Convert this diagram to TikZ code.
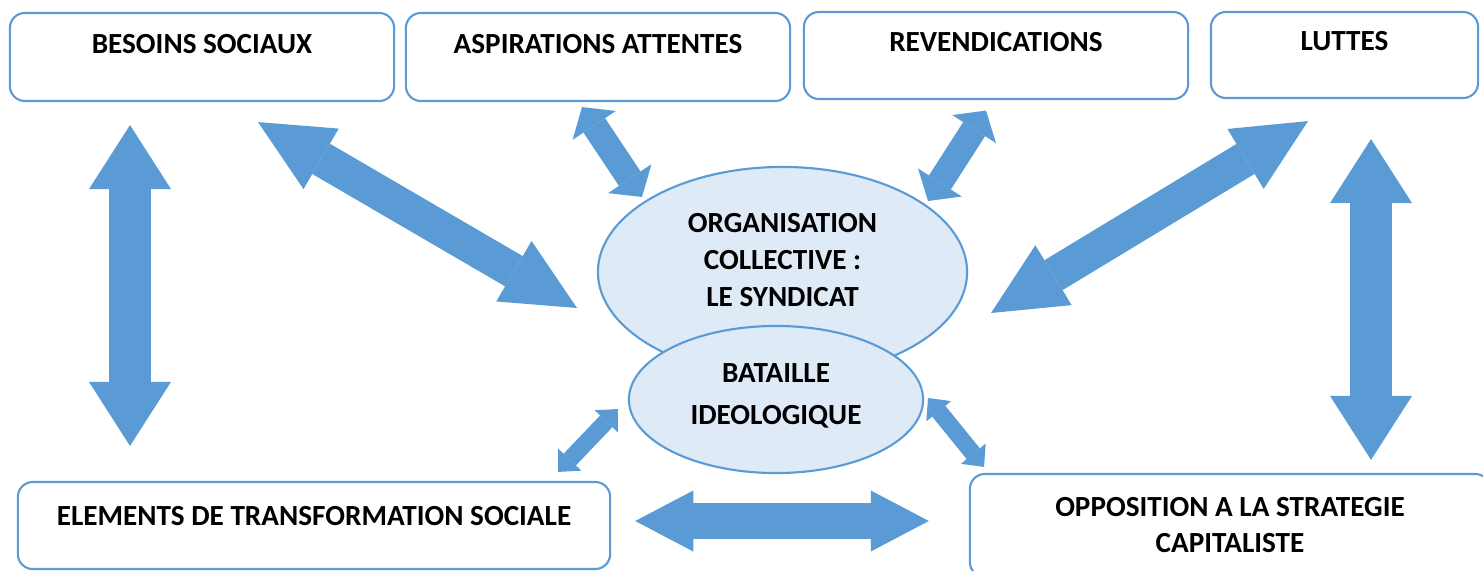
\documentclass[tikz,border=0pt]{standalone}
\usepackage{fontspec}
\setmainfont{Carlito}
\usepackage{tikz}
\usetikzlibrary{arrows.meta,shapes.geometric,calc}

\definecolor{arrowblue}{HTML}{5B9BD5}
\definecolor{edgeblue}{HTML}{5B9BD5}
\definecolor{cloudfill}{HTML}{DEEBF7}

\begin{document}
\begin{tikzpicture}[
  x=0.01cm, y=-0.01cm,
  every node/.style={align=center, inner sep=0pt},
  lbl/.style={font=\fontsize{8.3}{#1}\selectfont\bfseries},
  lbl/.default=9.96,
  % Rounded boxes
  topic/.style={
    rectangle, rounded corners=0.15cm, draw=edgeblue, fill=white,
    line width=0.6pt, text height=0.18cm, lbl
  },
  % Ellipses in the middle
  core/.style={
    ellipse, draw=edgeblue, fill=cloudfill,
    line width=0.6pt
  },
  % Block arrows (both ends)
  bigarr/.style={<->, draw=arrowblue, line width=0.35cm,
    >={Triangle[width=0.70cm,length=0.73cm,line width=0pt]}},
  vertarr/.style={<->, draw=arrowblue, line width=0.42cm,
    >={Triangle[width=0.82cm,length=0.64cm,line width=0pt]}},
  horarr/.style={<->, draw=arrowblue, line width=0.36cm,
    >={Triangle[width=0.61cm,length=0.58cm,line width=0pt]}},
  midarr/.style={<->, draw=arrowblue, line width=0.26cm,
    >={Triangle[width=0.52cm,length=0.22cm,line width=0pt]}},
  smallarr/.style={<->, draw=arrowblue, line width=0.17cm,
    >={Triangle[width=0.32cm,length=0.17cm,line width=0pt]}},
]

\useasboundingbox (0,0) rectangle (1483,570);
\clip (0,0) rectangle (1483,570);

% -------------------------------------------------------
% TOP ROW
% -------------------------------------------------------
\node[topic, minimum width=3.84cm, minimum height=0.88cm, text depth=0.24cm]
  (besoins) at (202,57)     {BESOINS SOCIAUX};
\node[topic, minimum width=3.84cm, minimum height=0.88cm, text depth=0.24cm]
  (aspir)   at (598,57)     {ASPIRATIONS ATTENTES};
\node[topic, minimum width=3.84cm, minimum height=0.87cm, text depth=0.25cm]
  (revend)  at (996,55.5)   {REVENDICATIONS};
\node[topic, minimum width=2.67cm, minimum height=0.86cm, text depth=0.26cm]
  (luttes)  at (1344.5,55)  {LUTTES};

% -------------------------------------------------------
% BOTTOM ROW
% -------------------------------------------------------
\node[topic, minimum width=5.92cm, minimum height=0.87cm, text depth=0.19cm]
  (transfo) at (314,525.5)  {ELEMENTS DE TRANSFORMATION SOCIALE};
\node[topic, minimum width=5.20cm, minimum height=1.03cm,
  text height=0.53cm, text depth=0cm]
  (oppos)   at (1230,525.5) {OPPOSITION A LA STRATEGIE\\CAPITALISTE};

% -------------------------------------------------------
% CENTER -- the union and the ideological battle
% -------------------------------------------------------
\node[core, lbl=10.39, minimum width=3.69cm, minimum height=2.10cm,
  text height=0.91cm, text depth=0.23cm]
  (syndicat) at (782.5,272) {ORGANISATION\\COLLECTIVE :\\LE SYNDICAT};
\node[core, lbl=11.67, minimum width=2.94cm, minimum height=1.47cm,
  text height=0.59cm, text depth=0.10cm]
  (bataille) at (776,399.5) {BATAILLE\\IDEOLOGIQUE};

% -------------------------------------------------------
% ARROWS
% -------------------------------------------------------
% long diagonals
\draw[bigarr] ($(besoins.south)+(56,20)$) -- ($(syndicat.center)+(-205.5,36)$);
\draw[bigarr] ($(luttes.south)+(-36.5,22)$) -- ($(syndicat.center)+(208.5,41)$);

% verticals on both sides
\draw[vertarr] ($(besoins.south)+(-72,23)$) -- ($(transfo.north)+(-184,-35)$);
\draw[vertarr] ($(luttes.south)+(26.5,40)$) -- ($(oppos.north)+(141,-13)$);

% bottom horizontal
\draw[horarr] ($(transfo.east)+(24,-4.5)$) -- ($(oppos.west)+(-40,-4.5)$);

% short ones around the ellipses
\draw[midarr] ($(aspir.south)+(-16,5)$) -- ($(syndicat.center)+(-140.5,-75)$);
\draw[midarr] ($(revend.south)+(-10,10.5)$) -- ($(syndicat.center)+(145.5,-71)$);
\draw[smallarr] ($(transfo.north)+(244,-9)$) -- ($(bataille.center)+(-158,9.5)$);
\draw[smallarr] ($(bataille.center)+(152,-1.5)$) -- ($(oppos.north)+(-246,-6)$);

\end{tikzpicture}
\end{document}
